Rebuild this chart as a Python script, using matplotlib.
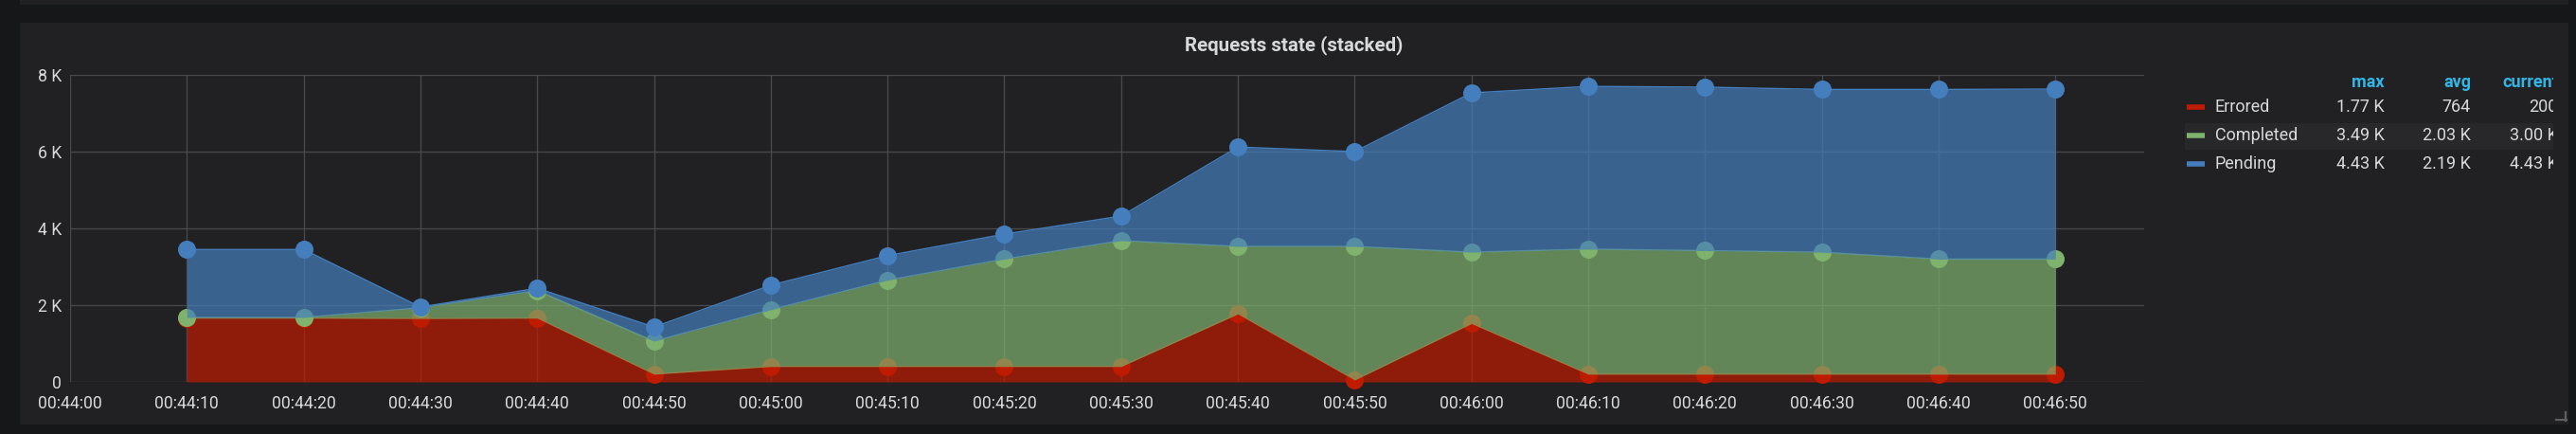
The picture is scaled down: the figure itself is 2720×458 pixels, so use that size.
import matplotlib
matplotlib.use('Agg')
import matplotlib.pyplot as plt
import numpy as np
from matplotlib.patches import Rectangle
from matplotlib.lines import Line2D
from matplotlib.ticker import FuncFormatter

W, H = 2720, 458

start = '00:44:00'
times = ['00:44:10', '00:44:20', '00:44:30', '00:44:40', '00:44:50',
         '00:45:00', '00:45:10', '00:45:20', '00:45:30', '00:45:40',
         '00:45:50', '00:46:00', '00:46:10', '00:46:20', '00:46:30',
         '00:46:40', '00:46:50']
errored = [1660, 1660, 1650, 1660, 200, 400, 400, 400, 400, 1770,
           50, 1520, 200, 200, 200, 200, 200]
completed = [20, 20, 280, 720, 860, 1480, 2250, 2800, 3280, 1760,
             3480, 1860, 3260, 3220, 3180, 3000, 3000]
pending = [1770, 1770, 20, 60, 370, 640, 640, 650, 640, 2590,
           2470, 4150, 4240, 4260, 4240, 4420, 4430]

names = ['Errored', 'Completed', 'Pending']
colors = ['#BF1B00', '#7EB26D', '#447EBC']
leg_max = ['1.77 K', '3.49 K', '4.43 K']
leg_avg = ['764', '2.03 K', '2.19 K']
leg_cur = ['200', '3.00 K', '4.43 K']

TXT = '#d8d9da'
PANEL = '#212124'
BG = '#161719'


def secs(s):
    h, m, sec = map(int, s.split(':'))
    return h * 3600 + m * 60 + sec


def fx(x):
    return x / W


def fy(y):
    return 1 - y / H


t0 = secs(start)
x = np.array([secs(s) - t0 for s in times])

plt.rcParams['font.family'] = ['Roboto', 'DejaVu Sans']
fig = plt.figure(figsize=(W / 100, H / 100), dpi=100, facecolor=BG)

# panels (behind the axes)
fig.add_artist(Rectangle((fx(21), fy(5)), fx(2712) - fx(21), fy(0) - fy(5),
                         color=PANEL, lw=0, zorder=-5))
fig.add_artist(Rectangle((fx(21), fy(448)), fx(2712) - fx(21), fy(24) - fy(448),
                         color=PANEL, lw=0, zorder=-5))
fig.add_artist(Line2D([fx(2699), fx(2710)], [fy(443), fy(443)], color='#5f5f62', lw=1.6))
fig.add_artist(Line2D([fx(2709), fx(2709)], [fy(435), fy(444)], color='#5f5f62', lw=1.6))

fig.text(fx(1366), fy(48), 'Requests state (stacked)', ha='center', va='center',
         fontsize=14.8, weight='bold', color=TXT)

ax = fig.add_axes([fx(74), fy(403), fx(2264) - fx(74), fy(79) - fy(403)])
ax.set_facecolor('none')

base = np.zeros(len(x))
for i, (vals, c) in enumerate(zip([errored, completed, pending], colors)):
    top = base + np.array(vals)
    ax.fill_between(x, base, top, color=c, alpha=0.7, lw=0, zorder=2 + 3 * i)
    ax.plot(x, top, color=c, lw=1, zorder=3 + 3 * i)
    ax.plot(x, top, 'o', color=c, ms=13.7, mec='none', zorder=4 + 3 * i, clip_on=False)
    base = top

ax.set_xlim(0, 177.6)
ax.set_ylim(0, 8000)
ax.set_xticks(np.arange(0, 171, 10))
ax.set_yticks([0, 2000, 4000, 6000, 8000])


def xfmt(v, pos):
    s = int(round(v)) + t0
    return '%02d:%02d:%02d' % (s // 3600, (s // 60) % 60, s % 60)


ax.xaxis.set_major_formatter(FuncFormatter(xfmt))
ax.yaxis.set_major_formatter(FuncFormatter(lambda v, p: '0' if v == 0 else '%g K' % (v / 1000)))
ax.grid(True, color='#48484b', lw=1)
ax.set_axisbelow(True)
for sp in ax.spines.values():
    sp.set_visible(False)
ax.tick_params(axis='x', length=0, pad=10, labelsize=12.7, labelcolor=TXT)
ax.tick_params(axis='y', length=0, pad=6.5, labelsize=12.7, labelcolor=TXT)

# legend table
lax = fig.add_axes([fx(2300), fy(200), fx(2696) - fx(2300), fy(60) - fy(200)])
lax.set_xlim(2300, 2696)
lax.set_ylim(200, 60)
lax.axis('off')
lax.add_patch(Rectangle((2307, 130), 2696 - 2307, 28, color='#28282b', lw=0))
rows_y = [113, 143, 173]
head_y = 87
for lbl, xr in zip(['max', 'avg', 'current'], [2518, 2609, 2701]):
    lax.text(xr, head_y, lbl, ha='right', va='center', fontsize=13, weight='bold',
             color='#33b5e5', clip_on=True)
for i in range(3):
    y = rows_y[i]
    lax.plot([2309, 2328], [y, y], color=colors[i], lw=4, solid_capstyle='butt')
    lax.text(2339, y, names[i], ha='left', va='center', fontsize=13, color=TXT)
    for val, xr in zip([leg_max[i], leg_avg[i], leg_cur[i]], [2518, 2609, 2701]):
        lax.text(xr, y, val, ha='right', va='center', fontsize=13, color=TXT, clip_on=True)

fig.savefig('out.png', dpi=100, facecolor=BG)
